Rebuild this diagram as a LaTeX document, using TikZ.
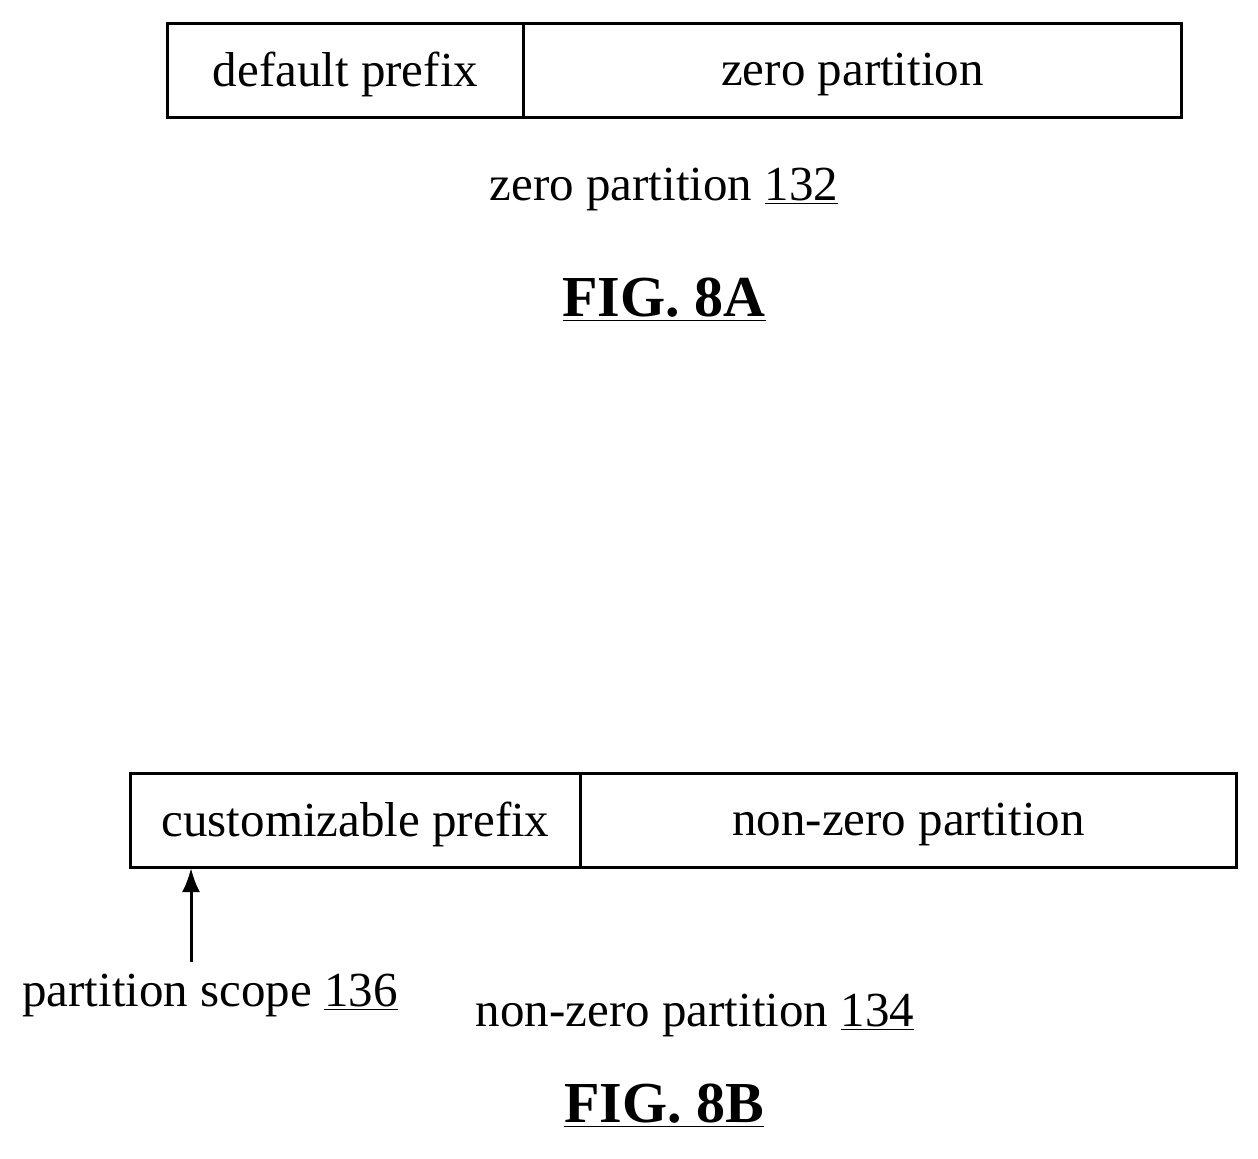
\documentclass[tikz,border=0pt]{standalone}
\usepackage{fontspec}
\setmainfont{Liberation Serif}
\usetikzlibrary{arrows.meta}
\begin{document}
\begin{tikzpicture}[x=0.5pt,y=-0.5pt,
  box/.style={draw,line width=1.5pt,minimum height=47pt,inner sep=0pt,anchor=north west},
  txt/.style={font=\fontsize{24.5}{29}\selectfont},
  fig/.style={font=\fontsize{29}{34}\selectfont\bfseries}]
\useasboundingbox (0,0) rectangle (1258,1158);
\node[box,minimum width=178pt] (dp) at (166,22) {};
\node[box,minimum width=329pt] (zp) at (522,22) {};
\node[txt] at ([yshift=-2pt]dp.center) {default prefix};
\node[txt] at ([yshift=-2pt]zp.center) {zero partition};
\node[txt] (l132) at (664,189) {zero partition \underline{132}};
\node[fig] (f8a) at (664,300) {\underline{FIG. 8A}};
\node[box,minimum width=225pt] (cp) at (129,772) {};
\node[box,minimum width=328pt] (nz) at (579,772) {};
\node[txt] at ([yshift=-2pt]cp.center) {customizable prefix};
\node[txt] at ([yshift=-2pt]nz.center) {non-zero partition};
\coordinate (tip) at (191,868);
\node[txt] (ps) at (210,995) {partition scope \underline{136}};
\node[txt] (l134) at (695,1015) {non-zero partition \underline{134}};
\node[fig] (f8b) at (664,1106) {\underline{FIG. 8B}};
\draw[line width=1.5pt,-{Latex[length=12pt,width=9pt]}] (191,962) -- (tip);
\end{tikzpicture}
\end{document}
